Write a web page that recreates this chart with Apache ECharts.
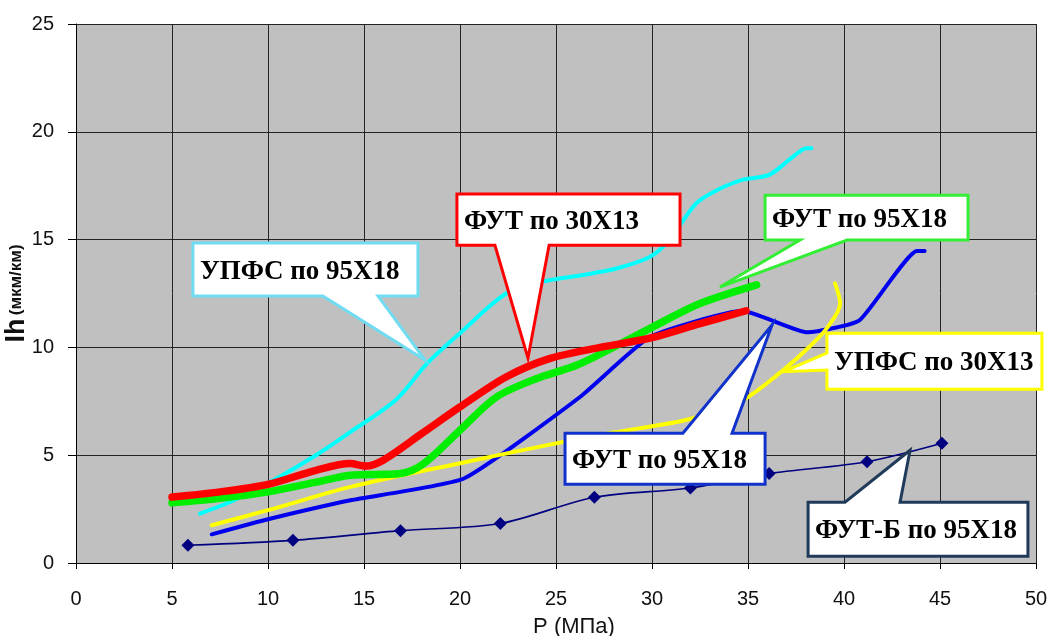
<!DOCTYPE html>
<html>
<head>
<meta charset="utf-8">
<script src="https://cdn.jsdelivr.net/npm/echarts@6/dist/echarts.min.js"></script>
<style>
html,body{margin:0;padding:0;background:#fff;}
#chart{width:1050px;height:636px;}
</style>
</head>
<body>
<div id="chart"></div>
<script>
// ---- Data ----
var xTicks = [0, 5, 10, 15, 20, 25, 30, 35, 40, 45, 50];
var yTicks = [0, 5, 10, 15, 20, 25];

// ФУТ-Б по 95Х18 (navy, diamonds)
var futbX = [5.83, 11.3, 16.9, 22.1, 27.0, 32.0, 36.1, 41.2, 45.1];
var futbY = [0.82, 1.05, 1.5, 1.83, 3.05, 3.48, 4.15, 4.7, 5.55];

// ФУТ по 95Х18 (blue)
var futBlueX = [7.07, 10, 14.3, 20.2, 26.25, 29.9, 34.7, 38.1, 40.8, 43.8, 44.2];
var futBlueY = [1.33, 2.03, 2.91, 3.92, 7.7, 10.49, 11.7, 10.7, 11.25, 14.47, 14.47];

// УПФС по 30Х13 (yellow)
var upfs30X = [7.07, 10, 14.3, 20, 25, 28, 31.6, 33.5, 35, 36.84, 38.2, 39.1, 39.8, 39.53];
var upfs30Y = [1.75, 2.45, 3.53, 4.63, 5.55, 6.05, 6.6, 7.1, 7.7, 8.95, 10.03, 10.88, 12.04, 12.97];

// УПФС по 95Х18 (cyan)
var upfs95X = [6.46, 8.2, 10, 12.5, 14.3, 16.7, 18.3, 20, 22.4, 24.3, 26.4, 28.2, 29.9, 30.9, 32.3, 33.4, 34.7, 36.1, 37.35, 38.05, 38.3];
var upfs95Y = [2.29, 2.9, 3.7, 5.0, 6.08, 7.6, 9.27, 10.66, 12.5, 13.05, 13.36, 13.67, 14.2, 14.98, 16.68, 17.3, 17.77, 18.0, 18.85, 19.24, 19.24];

// ФУТ по 30Х13 (red)
var fut30X = [5, 7.5, 10, 12.5, 14.27, 15.1, 16.0, 18, 20, 22.4, 24.7, 27.3, 30, 32.5, 34.9];
var fut30Y = [3.06, 3.3, 3.65, 4.3, 4.61, 4.5, 4.77, 6.0, 7.24, 8.63, 9.49, 10.0, 10.45, 11.1, 11.7];

// ФУТ по 95Х18 (green)
var futGreenX = [5, 7.5, 10, 12.5, 14.3, 16.9, 18.1, 20, 21.9, 24, 26.1, 28.2, 30.8, 32.5, 35.45];
var futGreenY = [2.79, 3.0, 3.3, 3.75, 4.07, 4.15, 4.6, 6.16, 7.7, 8.56, 9.18, 10.1, 11.3, 12.04, 12.9];

// Callout labels
var calloutTexts = ['УПФС по 95Х18', 'ФУТ по 30Х13', 'ФУТ по 95Х18', 'УПФС по 30Х13', 'ФУТ по 95Х18', 'ФУТ-Б по 95Х18'];

function pairs(xs, ys) { return xs.map(function (x, i) { return [x, ys[i]]; }); }

var chart = echarts.init(document.getElementById('chart'), null, {renderer: 'canvas'});

var axisFont = {fontFamily: '"Liberation Sans", Arial, sans-serif', fontSize: 20, color: '#111'};

function lineSeries(name, xs, ys, color, width, smooth) {
  return {
    name: name, type: 'line', data: pairs(xs, ys),
    smooth: smooth, showSymbol: false, symbol: 'none',
    lineStyle: {color: color, width: width, cap: 'round', join: 'round'},
    itemStyle: {color: color}, z: 3
  };
}

var option = {
  animation: false,
  backgroundColor: '#ffffff',
  grid: {left: 76, right: 14, top: 24, bottom: 73, containLabel: false, outerBoundsMode: 'none',
         show: true, backgroundColor: '#c0c0c0', borderColor: '#222', borderWidth: 0},
  xAxis: {
    type: 'value', min: 0, max: 50, interval: 5,
    name: 'P (МПа)', nameLocation: 'middle', nameGap: 53, nameMoveOverlap: false,
    nameTextStyle: {fontFamily: '"Liberation Sans", Arial, sans-serif', fontSize: 22, color: '#111', padding: [0, 0, 0, 36]},
    axisLine: {show: true, lineStyle: {color: '#000', width: 1}},
    axisTick: {show: true, length: 6, lineStyle: {color: '#000'}},
    axisLabel: Object.assign({margin: 26, formatter: function (v) { return String(v); }}, axisFont),
    splitLine: {show: true, lineStyle: {color: '#222', width: 1}}
  },
  yAxis: {
    type: 'value', min: 0, max: 25, interval: 5,
    name: '{a|Ih} {b|(мкм/км)}', nameLocation: 'middle', nameGap: 46, nameMoveOverlap: false,
    nameTextStyle: {
      rich: {
        a: {fontFamily: '"Liberation Sans", Arial, sans-serif', fontSize: 27, fontWeight: 'bold', color: '#111'},
        b: {fontFamily: '"Liberation Sans", Arial, sans-serif', fontSize: 17, fontWeight: 'bold', color: '#111'}
      }
    },
    axisLine: {show: true, lineStyle: {color: '#000', width: 1}},
    axisTick: {show: true, length: 8, lineStyle: {color: '#000'}},
    axisLabel: Object.assign({margin: 22}, axisFont),
    splitLine: {show: true, lineStyle: {color: '#222', width: 1}}
  },
  series: [
    {
      name: 'ФУТ-Б по 95Х18', type: 'line', data: pairs(futbX, futbY), smooth: 0.3,
      symbol: 'diamond', symbolSize: 13, showSymbol: true,
      lineStyle: {color: '#000080', width: 1.6}, itemStyle: {color: '#000080'}, z: 3
    },
    lineSeries('ФУТ по 95Х18 (синий)', futBlueX, futBlueY, '#0000ee', 4, 0.15),
    lineSeries('УПФС по 30Х13', upfs30X, upfs30Y, '#ffff00', 4, 0.3),
    lineSeries('УПФС по 95Х18', upfs95X, upfs95Y, '#00ffff', 4, 0.3),
    lineSeries('ФУТ по 95Х18', futGreenX, futGreenY, '#00ee00', 7.5, 0.3),
    lineSeries('ФУТ по 30Х13', fut30X, fut30Y, '#ff0000', 7.5, 0.3)
  ]
};
chart.setOption(option);

// Callout geometry (annotation layout, in data units)
var callouts = [
  {text: calloutTexts[0], color: '#70dcf2', box: [6.09, 14.84, 17.81, 12.38], side: 'bottom', base: [12.86, 15.73], tip: [18.18, 9.41]},
  {text: calloutTexts[1], color: '#ff0000', box: [19.84, 17.11, 31.46, 14.74], side: 'bottom', base: [21.82, 24.64], tip: [23.54, 9.50]},
  {text: calloutTexts[2], color: '#33ee33', box: [35.89, 17.06, 46.46, 14.98], side: 'bottom', base: [37.71, 40.16], tip: [33.54, 12.8]},
  {text: calloutTexts[3], color: '#ffff00', box: [39.11, 10.66, 50.31, 8.06], side: 'left', base: [9.74, 8.95], tip: [36.82, 8.87]},
  {text: calloutTexts[4], color: '#1133cc', box: [25.47, 6.02, 35.89, 3.65], side: 'top', base: [31.61, 34.17], tip: [36.25, 11.04]},
  {text: calloutTexts[5], color: '#1f3a5a', box: [38.13, 2.82, 49.58, 0.31], side: 'top', base: [40.05, 42.92], tip: [43.44, 5.23]}
];

function px(p) { return chart.convertToPixel({gridIndex: 0}, p); }

var graphics = [];
callouts.forEach(function (c, i) {
  var tl = px([c.box[0], c.box[1]]);
  var br = px([c.box[2], c.box[3]]);
  var x1 = tl[0], y1 = tl[1], x2 = br[0], y2 = br[1];
  var tip = px(c.tip);
  var pts;
  if (c.side === 'bottom') {
    var b1 = px([c.base[0], 0])[0], b2 = px([c.base[1], 0])[0];
    pts = [[x1, y1], [x2, y1], [x2, y2], [b2, y2], tip, [b1, y2], [x1, y2]];
  } else if (c.side === 'top') {
    var t1 = px([c.base[0], 0])[0], t2 = px([c.base[1], 0])[0];
    pts = [[x1, y1], [t1, y1], tip, [t2, y1], [x2, y1], [x2, y2], [x1, y2]];
  } else {
    var l1 = px([0, c.base[0]])[1], l2 = px([0, c.base[1]])[1];
    pts = [[x1, y1], [x2, y1], [x2, y2], [x1, y2], [x1, l2], tip, [x1, l1]];
  }
  graphics.push({
    type: 'polygon', z: 100, shape: {points: pts},
    style: {fill: '#ffffff', stroke: c.color, lineWidth: 3, lineJoin: 'miter'}
  });
  graphics.push({
    type: 'text', z: 101, x: x1 + 7, y: (y1 + y2) / 2 + 2,
    style: {text: c.text, font: 'bold 27px "Liberation Serif", "Times New Roman", serif', fill: '#000', align: 'left', verticalAlign: 'middle'}
  });
});
chart.setOption({graphic: graphics});
</script>
</body>
</html>
